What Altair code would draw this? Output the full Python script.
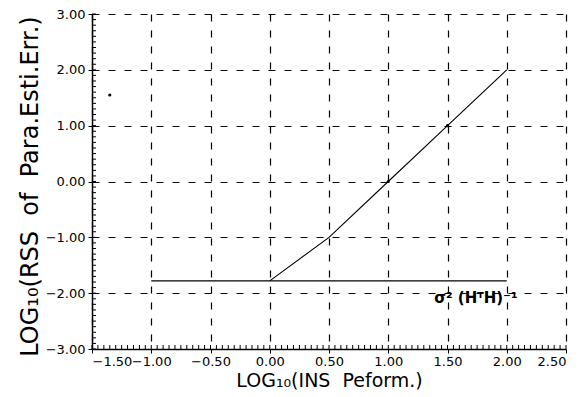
import altair as alt
import pandas as pd
import numpy as np

# ---- data ----
diag_x = [0.0, 0.5, 1.0, 1.5, 2.0]
diag_y = [-1.78, -1.0, 0.0, 1.0, 2.0]
flat_x = [-1.0, 2.0]
flat_y = [-1.78, -1.78]
dot_x = [1.0, 1.5, -1.35]
dot_y = [0.0, 1.0, 1.55]
x_ticks = [-1.5, -1.0, -0.5, 0.0, 0.5, 1.0, 1.5, 2.0, 2.5]
y_ticks = [-3.0, -2.0, -1.0, 0.0, 1.0, 2.0, 3.0]
label_text = ["σ²  (HᵀH)⁻¹"]
label_x = [1.74]
label_y = [-2.08]

W, H = 474, 335
FONT = "DejaVu Sans"
NB = "\u00a0"

x_minor = pd.DataFrame({"x": np.round(np.arange(-1.5, 2.5001, 0.05), 3)})
y_minor = pd.DataFrame({"y": np.round(np.arange(-3.0, 3.0001, 0.1), 3)})

xs = alt.Scale(domain=[-1.5, 2.5], nice=False, zero=False)
ys = alt.Scale(domain=[-3.0, 3.0], nice=False, zero=False)

xaxis = alt.Axis(values=x_ticks, format=".2f", title="LOG₁₀(INS" + NB + " Peform.)",
                 grid=True, gridDash=[7, 9], gridColor="black", gridWidth=1.2,
                 domainColor="black", domainWidth=1.5, tickColor="black", tickSize=4,
                 labelColor="black", labelFont=FONT, labelFontSize=13, labelOverlap=False,
                 labelPadding=2, titleFont=FONT, titleFontSize=19, titleFontWeight="normal",
                 titleColor="black", titlePadding=3)
yaxis = alt.Axis(values=y_ticks, format=".2f",
                 title="LOG₁₀(RSS" + NB + " of" + NB + " Para.Esti.Err.)",
                 grid=True, gridDash=[7, 9], gridColor="black", gridWidth=1.2,
                 domainColor="black", domainWidth=1.5, tickColor="black", tickSize=4,
                 labelColor="black", labelFont=FONT, labelFontSize=13, labelOverlap=False,
                 labelPadding=3, titleFont=FONT, titleFontSize=24, titleFontWeight="normal",
                 titleColor="black", titlePadding=3, titleY=172)

diag = alt.Chart(pd.DataFrame({"x": diag_x, "y": diag_y})).mark_line(
    color="black", strokeWidth=1.1).encode(
    x=alt.X("x:Q", scale=xs, axis=xaxis), y=alt.Y("y:Q", scale=ys, axis=yaxis))

flat = alt.Chart(pd.DataFrame({"x": flat_x, "y": flat_y})).mark_line(
    color="black", strokeWidth=1.3).encode(
    x=alt.X("x:Q", scale=xs), y=alt.Y("y:Q", scale=ys))

dots = alt.Chart(pd.DataFrame({"x": dot_x, "y": dot_y})).mark_circle(
    color="black", size=10, opacity=1).encode(
    x=alt.X("x:Q", scale=xs), y=alt.Y("y:Q", scale=ys))

xminor = alt.Chart(x_minor).mark_rule(color="black", strokeWidth=1).encode(
    x=alt.X("x:Q", scale=xs), y=alt.value(H), y2=alt.value(H - 4))
yminor = alt.Chart(y_minor).mark_rule(color="black", strokeWidth=1).encode(
    y=alt.Y("y:Q", scale=ys), x=alt.value(0), x2=alt.value(4))

label = alt.Chart(pd.DataFrame({"x": label_x, "y": label_y, "t": label_text})).mark_text(
    font=FONT, fontSize=15, fontWeight="bold", color="black").encode(
    x=alt.X("x:Q", scale=xs), y=alt.Y("y:Q", scale=ys), text="t:N")

chart = alt.layer(diag, flat, dots, xminor, yminor, label).properties(
    width=W, height=H, background="white",
    padding={"left": 10, "top": 0, "right": 5, "bottom": 5}
).configure_view(stroke=None)

chart.save("out.html", embed_options={"renderer": "svg", "actions": False})
